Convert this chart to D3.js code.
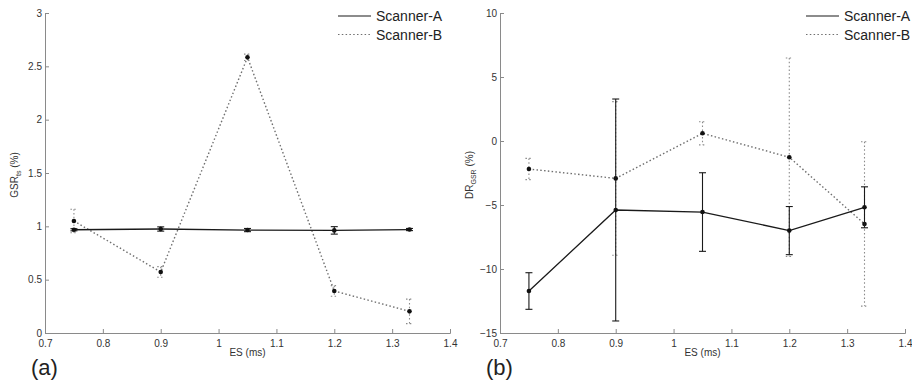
<!DOCTYPE html>
<html><head><meta charset="utf-8">
<script src="https://cdn.jsdelivr.net/npm/d3@7"></script>
<style>
body{margin:0;background:#fff;}
text{font-family:"Liberation Sans",Arial,sans-serif;}
</style></head>
<body>
<svg id="c" width="912" height="381"></svg>
<script>
const es = [0.75, 0.9, 1.05, 1.2, 1.33];
const xTicks = [0.7, 0.8, 0.9, 1, 1.1, 1.2, 1.3, 1.4];
const seriesNames = ["Scanner-A", "Scanner-B"];

// Panel (a): GSR_ts (%)
const gsrA = [0.968, 0.975, 0.965, 0.962, 0.970];
const gsrAErr = [0.010, 0.020, 0.015, 0.035, 0.010];
const gsrB = [1.05, 0.572, 2.584, 0.394, 0.203];
const gsrBErr = [0.11, 0.05, 0.03, 0.05, 0.115];
const gsrTicks = [0, 0.5, 1, 1.5, 2, 2.5, 3];

// Panel (b): DR_GSR (%)
const drA = [-11.72, -5.39, -5.55, -7.0, -5.18];
const drAErr = [1.43, 8.67, 3.07, 1.88, 1.6];
const drB = [-2.19, -2.92, 0.6, -1.27, -6.48];
const drBErr = [0.83, 6.0, 0.9, 7.75, 6.42];
const drTicks = [-15, -10, -5, 0, 5, 10];

const svg = d3.select("#c");
const axisCol = "#8a8a8a", textCol = "#333";

function panel(o){
  const x = d3.scaleLinear().domain([0.7,1.4]).range([o.left, o.left+405]);
  const y = d3.scaleLinear().domain(o.ydom).range([333, 13]);
  const g = svg.append("g");

  const xa = g.append("g").attr("transform","translate(0,333)")
    .call(d3.axisBottom(x).tickValues(xTicks).tickSize(-4).tickPadding(7).tickFormat(d3.format("")));
  const ya = g.append("g").attr("transform",`translate(${o.left},0)`)
    .call(d3.axisLeft(y).tickValues(o.yticks).tickSize(-4).tickPadding(3).tickFormat(d3.format("")));
  [xa,ya].forEach(a=>{
    a.select(".domain").attr("stroke",axisCol).attr("stroke-width",1);
    a.selectAll(".tick line").attr("stroke",axisCol);
    a.selectAll(".tick text").attr("fill",textCol).attr("font-size",10);
  });

  const series = [
    {v:o.a, e:o.ae, col:"#1a1a1a", dash:null, w:1.3, ecol:"#1a1a1a"},
    {v:o.b, e:o.be, col:"#6f6f6f", dash:"1.5,2.3", w:1.4, ecol:"#8a8a8a"}
  ];
  [series[1], series[0]].forEach(s=>{
    const line = d3.line().x((d,i)=>x(es[i])).y(d=>y(d));
    g.append("path").datum(s.v).attr("d",line).attr("fill","none")
      .attr("stroke",s.col).attr("stroke-width",s.w).attr("stroke-dasharray",s.dash);
    s.v.forEach((v,i)=>{
      const cx = x(es[i]), y1 = y(v+s.e[i]), y2 = y(v-s.e[i]);
      g.append("line").attr("x1",cx).attr("x2",cx).attr("y1",y1).attr("y2",y2)
        .attr("stroke",s.ecol).attr("stroke-width",1.1).attr("stroke-dasharray",s.dash);
      [y1,y2].forEach(yy=>g.append("line").attr("x1",cx-3.5).attr("x2",cx+3.5).attr("y1",yy).attr("y2",yy)
        .attr("stroke",s.ecol).attr("stroke-width",1.1).attr("stroke-dasharray",s.dash));
      g.append("circle").attr("cx",cx).attr("cy",y(v)).attr("r",2.3).attr("fill","#111");
    });
  });

  g.append("text").attr("x",o.left+202.5).attr("y",356).attr("text-anchor","middle")
    .attr("font-size",10).attr("fill",textCol).text("ES (ms)");
  const yl = g.append("text").attr("transform",`translate(${o.left-27},175) rotate(-90)`)
    .attr("text-anchor","middle").attr("font-size",10).attr("fill",textCol);
  yl.append("tspan").text(o.ylab[0]);
  yl.append("tspan").attr("font-size",7).attr("dy",3).text(o.ylab[1]);
  yl.append("tspan").attr("dy",-3).text(" (%)");
  g.append("text").attr("x",o.left-14).attr("y",375).attr("font-size",22).attr("fill","#222").text(o.tag);

  seriesNames.forEach((n,i)=>{
    const ly = 16 + i*18.5;
    g.append("line").attr("x1",o.legX).attr("x2",o.legX+33).attr("y1",ly).attr("y2",ly)
      .attr("stroke",series[i].col).attr("stroke-width",1.2).attr("stroke-dasharray",series[i].dash);
    g.append("text").attr("x",o.legX+38).attr("y",ly+5).attr("font-size",14).attr("fill","#222").text(n);
  });
}

panel({left:45, ydom:[0,3], yticks:gsrTicks, a:gsrA, ae:gsrAErr, b:gsrB, be:gsrBErr,
  ylab:["GSR","ts"], tag:"(a)", legX:338});
panel({left:500, ydom:[-15,10], yticks:drTicks, a:drA, ae:drAErr, b:drB, be:drBErr,
  ylab:["DR","GSR"], tag:"(b)", legX:806});
</script>
</body></html>
